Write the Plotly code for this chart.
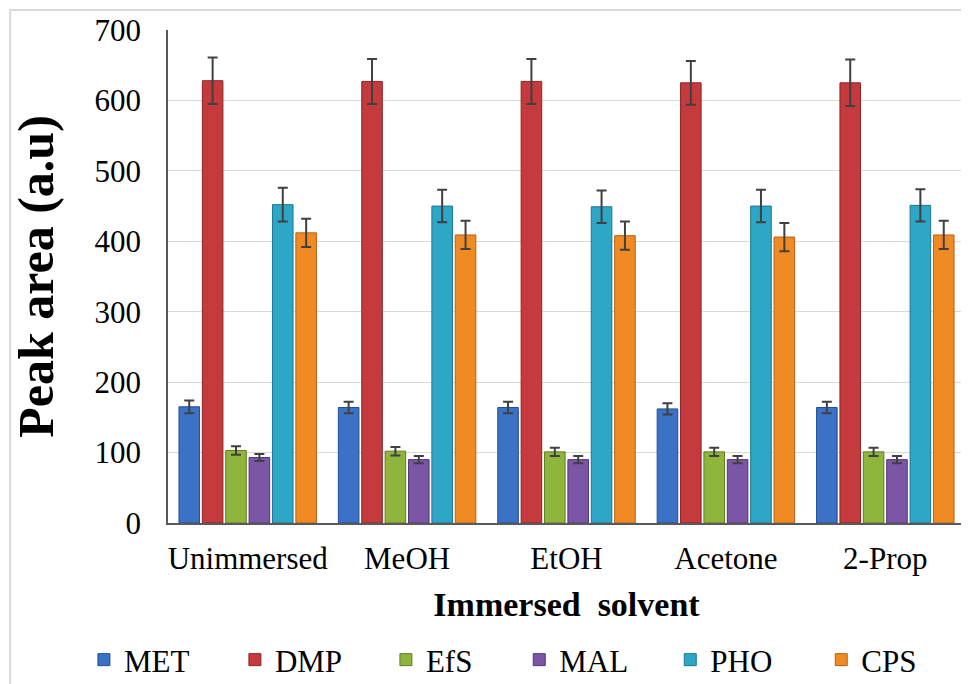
import plotly.graph_objects as go

categories = ["Unimmersed", "MeOH", "EtOH", "Acetone", "2-Prop"]
series_names = ["MET", "DMP", "EfS", "MAL", "PHO", "CPS"]
MET = [165, 164, 164, 162, 164]
DMP = [628, 627, 627, 625, 625]
EfS = [103, 102, 101, 101, 101]
MAL = [93, 90, 90, 90, 90]
PHO = [452, 450, 449, 450, 451]
CPS = [412, 409, 408, 406, 409]
MET_err = [9, 8, 8, 8, 8]
DMP_err = [33, 32, 32, 31, 33]
EfS_err = [6, 6, 6, 6, 6]
MAL_err = [5, 5, 5, 5, 5]
PHO_err = [24, 23, 23, 23, 23]
CPS_err = [20, 20, 20, 20, 20]

values = [MET, DMP, EfS, MAL, PHO, CPS]
errors = [MET_err, DMP_err, EfS_err, MAL_err, PHO_err, CPS_err]
colors = ["#3b72c6", "#c53a3c", "#8fb53c", "#7b55a6", "#2ea6c6", "#f08a22"]
edges = ["#1f4f95", "#8e2426", "#5f7f22", "#54367a", "#1a7894", "#b8611a"]
legend_ids = ["legend", "legend", "legend", "legend2", "legend2", "legend2"]

fig = go.Figure()
for name, v, e, c, ec, lg in zip(series_names, values, errors, colors, edges, legend_ids):
    fig.add_trace(go.Bar(
        name=name, x=categories, y=v, legend=lg,
        marker=dict(color=c, line=dict(color=ec, width=1)),
        error_y=dict(type="data", array=e, color="#404040", thickness=2, width=5),
    ))

font_family = "Liberation Serif, Times New Roman, serif"
legend_common = dict(
    orientation="h", xref="container", yref="container",
    xanchor="left", y=0.0355, yanchor="middle",
    font=dict(size=31), traceorder="normal", itemwidth=30,
    entrywidth=106, entrywidthmode="pixels", bgcolor="rgba(0,0,0,0)",
)
fig.update_layout(
    width=961, height=676,
    margin=dict(l=160, r=4, t=22, b=161),
    paper_bgcolor="white", plot_bgcolor="white",
    barmode="group", bargap=0.12, bargroupgap=0.12,
    font=dict(family=font_family, color="black", size=31),
    xaxis=dict(
        showline=True, linecolor="#595959", linewidth=1.5, automargin=True,
        tickfont=dict(size=31), ticks="", ticklabelstandoff=7,
        title=dict(text="<b>Immersed&nbsp; solvent</b>", font=dict(size=34), standoff=17),
    ),
    yaxis=dict(
        range=[0, 700], dtick=100, showline=True, linecolor="#595959", linewidth=1.5,
        automargin=False,
        gridcolor="#d9d9d9", gridwidth=1, tickfont=dict(size=31), ticks="",
        ticklabelstandoff=19,
        title=dict(text="<b>Peak area (a.u)</b>", font=dict(size=50), standoff=28),
        zeroline=False,
    ),
    legend=dict(legend_common, x=0.079),
    legend2=dict(legend_common, x=0.532),
    shapes=[dict(type="rect", xref="paper", yref="paper",
                 x0=-0.198, x1=1.05, y0=-0.36, y1=1.0406,
                 line=dict(color="#d9d9d9", width=2), fillcolor="rgba(0,0,0,0)", layer="below")],
)
fig.write_html("out.html")
